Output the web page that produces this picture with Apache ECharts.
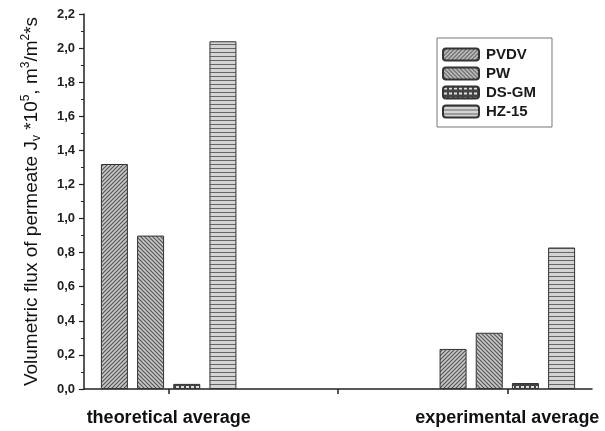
<!DOCTYPE html>
<html>
<head>
<meta charset="utf-8">
<script src="https://cdn.jsdelivr.net/npm/echarts@6/dist/echarts.min.js"></script>
<style>
  html, body { margin: 0; padding: 0; background: #fff; }
  #chart { width: 605px; height: 431px; }
</style>
</head>
<body>
<div id="chart"></div>
<script>
// Group positions on the x scale and their labels
const groupPositions = [1, 5];
const groupLabels = ['theoretical average', 'experimental average'];

// Membrane names (legend order)
const membranes = ['PVDV', 'PW', 'DS-GM', 'HZ-15'];

// Volumetric flux values, J_v * 10^5 (m³/m²·s), [theoretical, experimental]
const fluxPVDV = [1.32, 0.235];
const fluxPW = [0.90, 0.33];
const fluxDSGM = [0.03, 0.035];
const fluxHZ15 = [2.04, 0.83];

const yTicks = { min: 0, max: 2.2, step: 0.2 };

// Hatch fills drawn on small canvases, tiled by the renderer
function makePattern(kind) {
  const c = document.createElement('canvas');
  const s = kind === 'grid' ? 5 : 4;
  c.width = s; c.height = s;
  const g = c.getContext('2d');
  if (kind === 'fwd' || kind === 'back') {
    g.fillStyle = '#c8c8c8';
    g.fillRect(0, 0, s, s);
    g.strokeStyle = '#555';
    g.lineWidth = 1.2;
    g.beginPath();
    if (kind === 'fwd') {
      g.moveTo(-1, s + 1); g.lineTo(s + 1, -1);
      g.moveTo(-1, 1); g.lineTo(1, -1);
      g.moveTo(s - 1, s + 1); g.lineTo(s + 1, s - 1);
    } else {
      g.moveTo(-1, -1); g.lineTo(s + 1, s + 1);
      g.moveTo(s - 1, -1); g.lineTo(s + 1, 1);
      g.moveTo(-1, s - 1); g.lineTo(1, s + 1);
    }
    g.stroke();
  } else if (kind === 'grid') {
    g.fillStyle = '#444';
    g.fillRect(0, 0, s, s);
    g.fillStyle = '#e0e0e0';
    g.fillRect(1, 1, 3, 2);
  } else {
    g.fillStyle = '#d4d4d4';
    g.fillRect(0, 0, s, s);
    g.fillStyle = '#666';
    g.fillRect(0, 0, s, 1);
  }
  return { image: c, repeat: 'repeat' };
}

const fills = [makePattern('fwd'), makePattern('back'), makePattern('grid'), makePattern('horiz')];
const seriesValues = [fluxPVDV, fluxPW, fluxDSGM, fluxHZ15];

const fmt = v => v.toFixed(1).replace('.', ',');

const chart = echarts.init(document.getElementById('chart'), null, { renderer: 'canvas' });
chart.setOption({
  animation: false,
  backgroundColor: '#ffffff',
  textStyle: { fontFamily: 'Liberation Sans, Arial, sans-serif' },
  grid: { left: 84, right: 13, top: 14, bottom: 42 },
  legend: {
    data: membranes,
    orient: 'vertical',
    left: 437,
    top: 38,
    itemWidth: 36,
    itemHeight: 12,
    itemGap: 4,
    padding: [9, 16, 8, 5],
    borderColor: '#777',
    borderWidth: 1,
    textStyle: { fontSize: 15, fontWeight: 'bold', color: '#1a1a1a', padding: [0, 0, 0, 2] }
  },
  xAxis: {
    type: 'value',
    min: 0,
    max: 6,
    splitLine: { show: false },
    axisLine: { lineStyle: { color: '#222', width: 1.5 } },
    axisTick: {
      show: true,
      customValues: [1, 3, 5],
      length: 5,
      lineStyle: { color: '#222', width: 1.5 }
    },
    axisLabel: {
      customValues: groupPositions,
      formatter: v => groupLabels[groupPositions.indexOf(v)] || '',
      fontSize: 18,
      fontWeight: 'bold',
      color: '#111',
      margin: 20
    }
  },
  yAxis: {
    type: 'value',
    min: yTicks.min,
    max: yTicks.max,
    interval: yTicks.step,
    name: 'Volumetric flux of permeate J{sub|v} *10{sup|5}, m{sup|3}/m{sup|2}*s',
    nameLocation: 'middle',
    nameGap: 41,
    nameTextStyle: {
      fontSize: 19,
      color: '#111',
      rich: {
        sup: { fontSize: 12, verticalAlign: 'top', color: '#111', lineHeight: 23 },
        sub: { fontSize: 12, verticalAlign: 'bottom', color: '#111', lineHeight: 23 }
      }
    },
    splitLine: { show: false },
    axisLine: { show: true, lineStyle: { color: '#222', width: 1.5 } },
    axisTick: { show: true, length: 5, lineStyle: { color: '#222', width: 1.2 } },
    minorTick: { show: true, splitNumber: 2, length: 3, lineStyle: { color: '#222', width: 1 } },
    axisLabel: {
      formatter: fmt,
      fontSize: 13,
      fontWeight: 'bold',
      color: '#222',
      margin: 9
    }
  },
  series: membranes.map((name, i) => ({
    name,
    type: 'bar',
    barWidth: 27,
    barGap: '34%',
    data: groupPositions.map((x, k) => [x, seriesValues[i][k]]),
    itemStyle: { color: fills[i], borderColor: '#333', borderWidth: 1 }
  }))
});
</script>
</body>
</html>
